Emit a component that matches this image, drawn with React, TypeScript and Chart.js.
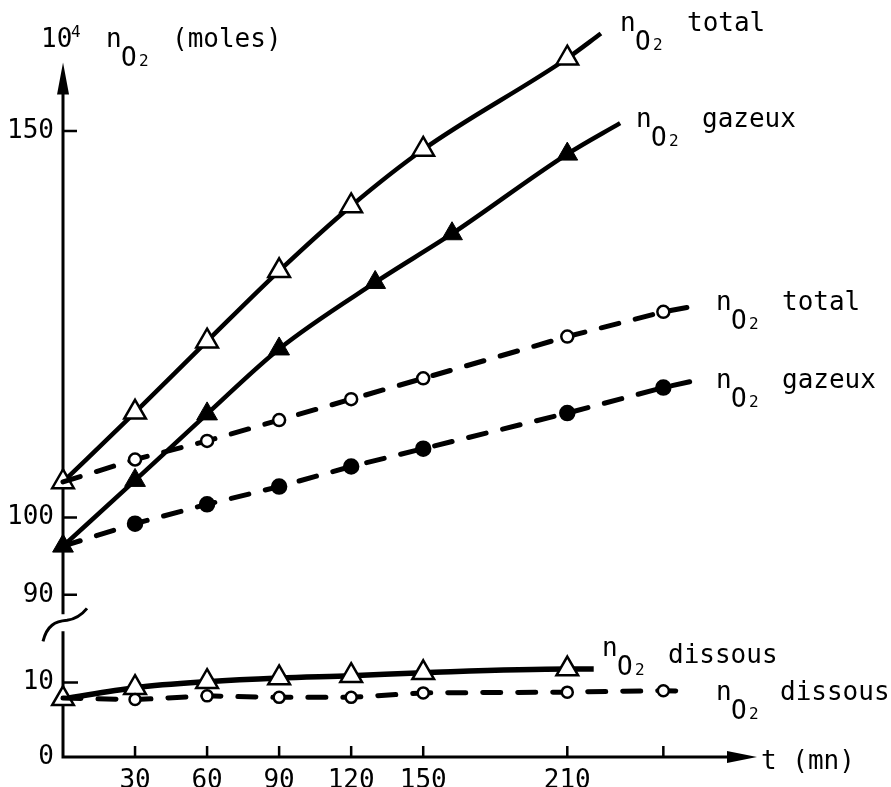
import React, { useEffect, useRef } from 'react';
import { Chart, registerables } from 'chart.js';

Chart.register(...registerables);

// ---- data (t in mn, values in 10^4 moles) ----
// last entry of each series = end of the drawn curve (no marker)
const totalSolidT = [0, 30, 60, 90, 120, 150, 210, 224];
const totalSolidV = [104.6, 113.6, 122.8, 131.9, 140.3, 147.6, 159.4, 162.6];

const gazeuxSolidT = [0, 30, 60, 90, 130, 162, 210, 232];
const gazeuxSolidV = [96.3, 104.8, 113.4, 121.8, 130.4, 136.7, 147.0, 151.0];

// first entry of dashed series = start on the triangle at t=0 (no marker)
const totalDashT = [0, 30, 60, 90, 120, 150, 210, 250, 264];
const totalDashV = [104.6, 107.5, 109.9, 112.6, 115.3, 118.0, 123.4, 126.6, 127.4];

const gazeuxDashT = [0, 30, 60, 90, 120, 150, 210, 250, 263];
const gazeuxDashV = [96.3, 99.2, 101.7, 104.0, 106.6, 108.9, 113.5, 116.8, 117.7];

const dissousSolidT = [0, 30, 60, 90, 120, 150, 210, 221];
const dissousSolidV = [7.8, 9.3, 10.1, 10.6, 10.9, 11.3, 11.8, 11.8];

const dissousDashT = [0, 30, 60, 90, 120, 150, 210, 250, 261];
const dissousDashV = [7.9, 7.7, 8.2, 8.0, 8.0, 8.6, 8.7, 8.9, 8.8];

// ---- axes ----
const xTickValues = [0, 30, 60, 90, 120, 150, 210, 250];
const xTickLabels = ['', '30', '60', '90', '120', '150', '210', ''];
const xMin = 0;
const xMax = 289;
const upperTicks = [90, 100, 150];
const lowerTicks = [0, 10];
const upperMin = 86.31;
const upperMax = 163.75;
const lowerMin = 0;
const lowerMax = 17.93;

const FONT = '"DejaVu Sans Mono", "Liberation Mono", monospace';

const pts = (t: number[], v: number[]) => t.map((x, i) => ({ x, y: v[i] }));

function drawNO2(ctx: CanvasRenderingContext2D, x: number, y: number, word: string, wordDx: number, wordDy: number) {
  ctx.font = `26px ${FONT}`;
  ctx.fillText('n', x, y);
  ctx.fillText('O', x + 15, y + 19);
  ctx.font = `16px ${FONT}`;
  ctx.fillText('2', x + 33, y + 19);
  if (word) {
    ctx.font = `26px ${FONT}`;
    ctx.fillText(word, x + wordDx, y + wordDy);
  }
}

const sketchPlugin = {
  id: 'sketchAxes',
  beforeDatasetsDraw(chart: any) {
    const { ctx, scales } = chart;
    const xs = scales.x;
    const yU = scales.y;
    const yL = scales.y2;
    const ax = xs.left;
    const ay = xs.top;
    const breakY = yU.bottom;
    const topY = chart.chartArea.top + 38;
    ctx.save();
    ctx.strokeStyle = '#000';
    ctx.fillStyle = '#000';
    ctx.lineWidth = 3;
    ctx.beginPath();
    ctx.moveTo(ax, topY + 20);
    ctx.lineTo(ax, breakY - 9);
    ctx.moveTo(ax, breakY + 8);
    ctx.lineTo(ax, ay);
    ctx.lineTo(xs.right - 22, ay);
    ctx.stroke();
    // arrow heads
    ctx.beginPath();
    ctx.moveTo(ax, topY);
    ctx.lineTo(ax + 6, topY + 32);
    ctx.lineTo(ax - 6, topY + 32);
    ctx.closePath();
    ctx.fill();
    ctx.beginPath();
    ctx.moveTo(xs.right, ay);
    ctx.lineTo(xs.right - 30, ay - 6);
    ctx.lineTo(xs.right - 30, ay + 6);
    ctx.closePath();
    ctx.fill();
    // ticks (inside)
    ctx.lineWidth = 2.5;
    ctx.beginPath();
    for (const v of upperTicks) {
      const py = yU.getPixelForValue(v);
      ctx.moveTo(ax, py);
      ctx.lineTo(ax + 14, py);
    }
    for (const v of lowerTicks) {
      if (v === 0) continue;
      const py = yL.getPixelForValue(v);
      ctx.moveTo(ax, py);
      ctx.lineTo(ax + 15, py);
    }
    for (const v of xTickValues) {
      if (v === 0) continue;
      const px = xs.getPixelForValue(v);
      ctx.moveTo(px, ay);
      ctx.lineTo(px, ay - 11);
    }
    ctx.stroke();
    // axis break symbol
    ctx.lineWidth = 3;
    ctx.beginPath();
    ctx.moveTo(ax - 20, breakY + 18);
    ctx.bezierCurveTo(ax - 16, breakY + 2, ax - 8, breakY - 2, ax + 4, breakY - 3);
    ctx.quadraticCurveTo(ax + 16, breakY - 5, ax + 24, breakY - 15);
    ctx.stroke();
    ctx.restore();
  },
  afterDraw(chart: any) {
    const { ctx } = chart;
    ctx.save();
    ctx.fillStyle = '#000';
    ctx.textBaseline = 'alphabetic';
    ctx.textAlign = 'left';
    // y-axis title
    ctx.font = `26px ${FONT}`;
    ctx.fillText('10', 41, 47);
    ctx.font = `16px ${FONT}`;
    ctx.fillText('4', 71, 37);
    drawNO2(ctx, 106, 47, '', 0, 0);
    ctx.font = `26px ${FONT}`;
    ctx.fillText('(moles)', 172, 47);
    // curve labels
    drawNO2(ctx, 620, 31, 'total', 67, 0);
    drawNO2(ctx, 636, 127, 'gazeux', 66, 0);
    drawNO2(ctx, 716, 310, 'total', 66, 0);
    drawNO2(ctx, 716, 388, 'gazeux', 66, 0);
    drawNO2(ctx, 602, 656, 'dissous', 66, 7);
    drawNO2(ctx, 716, 700, 'dissous', 64, 0);
    // x-axis title
    ctx.font = `26px ${FONT}`;
    ctx.fillText('t (mn)', 761, 769);
    ctx.restore();
  },
};

const tickFont = { family: FONT, size: 26 };

export default function App() {
  const ref = useRef<HTMLCanvasElement | null>(null);

  useEffect(() => {
    if (!ref.current) return;
    const openTri = (n: number) => ({
      pointStyle: 'triangle',
      pointRadius: (c: any) => (c.dataIndex === n - 1 ? 0 : 12.5),
      pointBackgroundColor: '#fff',
      pointBorderColor: '#000',
      pointBorderWidth: 2.5,
    });
    const fillTri = (n: number) => ({
      pointStyle: 'triangle',
      pointRadius: (c: any) => (c.dataIndex === n - 1 ? 0 : 12),
      pointBackgroundColor: '#000',
      pointBorderColor: '#000',
      pointBorderWidth: 1,
    });
    const circ = (n: number, r: number, filled: boolean) => ({
      pointStyle: 'circle',
      pointRadius: (c: any) => (c.dataIndex === 0 || c.dataIndex === n - 1 ? 0 : r),
      pointBackgroundColor: filled ? '#000' : '#fff',
      pointBorderColor: '#000',
      pointBorderWidth: 2.5,
    });
    const solid = { borderColor: '#000', borderWidth: 4.5, cubicInterpolationMode: 'monotone', tension: 0.4 };
    const dashed = { borderColor: '#000', borderWidth: 5, borderDash: [18, 17], borderCapStyle: 'round', tension: 0 };

    const chart = new Chart(ref.current, {
      type: 'line',
      data: {
        datasets: [
          { label: 'n O2 gazeux (tirets)', data: pts(gazeuxDashT, gazeuxDashV), yAxisID: 'y', ...dashed, ...circ(gazeuxDashT.length, 7, true), clip: false },
          { label: 'n O2 total (tirets)', data: pts(totalDashT, totalDashV), yAxisID: 'y', ...dashed, ...circ(totalDashT.length, 6, false), clip: false },
          { label: 'n O2 gazeux', data: pts(gazeuxSolidT, gazeuxSolidV), yAxisID: 'y', ...solid, ...fillTri(gazeuxSolidT.length), clip: false },
          { label: 'n O2 total', data: pts(totalSolidT, totalSolidV), yAxisID: 'y', ...solid, ...openTri(totalSolidT.length), clip: false },
          { label: 'n O2 dissous (tirets)', data: pts(dissousDashT, dissousDashV), yAxisID: 'y2', ...dashed, ...circ(dissousDashT.length, 5.5, false), clip: false },
          { label: 'n O2 dissous', data: pts(dissousSolidT, dissousSolidV), yAxisID: 'y2', ...solid, borderWidth: 5.5, ...openTri(dissousSolidT.length), clip: false },
        ] as any,
      },
      options: {
        animation: false,
        responsive: false,
        maintainAspectRatio: false,
        layout: { padding: { top: 20, right: 134, left: 0, bottom: 0 } },
        plugins: { legend: { display: false }, tooltip: { enabled: false } },
        scales: {
          x: {
            type: 'linear',
            position: 'bottom',
            min: xMin,
            max: xMax,
            grid: { display: false, drawTicks: false },
            border: { display: false },
            ticks: {
              padding: 9,
              font: tickFont,
              color: '#000',
              autoSkip: false,
              maxRotation: 0,
              callback: (_v: any, i: number) => xTickLabels[i],
            },
            afterBuildTicks: (s: any) => {
              s.ticks = xTickValues.map((value) => ({ value }));
            },
            afterFit: (s: any) => {
              s.height = 30;
            },
          },
          y: {
            type: 'linear',
            position: 'left',
            stack: 'left',
            stackWeight: 602.5,
            weight: 2,
            min: upperMin,
            max: upperMax,
            grid: { display: false, drawTicks: false },
            border: { display: false },
            ticks: { padding: 9, font: tickFont, color: '#000', callback: (v: any) => String(v) },
            afterBuildTicks: (s: any) => {
              s.ticks = upperTicks.map((value) => ({ value }));
            },
            afterFit: (s: any) => {
              s.width = 63;
            },
          },
          y2: {
            type: 'linear',
            position: 'left',
            stack: 'left',
            stackWeight: 134.5,
            weight: 1,
            min: lowerMin,
            max: lowerMax,
            grid: { display: false, drawTicks: false },
            border: { display: false },
            ticks: { padding: 9, font: tickFont, color: '#000', callback: (v: any) => String(v) },
            afterBuildTicks: (s: any) => {
              s.ticks = lowerTicks.map((value) => ({ value }));
            },
            afterFit: (s: any) => {
              s.width = 63;
            },
          },
        },
      } as any,
      plugins: [sketchPlugin],
    });
    return () => chart.destroy();
  }, []);

  return (
    <div style={{ position: 'fixed', left: 0, top: 0, width: 891, height: 787, background: '#fff' }}>
      <canvas ref={ref} width={891} height={787} style={{ display: 'block', width: 891, height: 787 }} />
    </div>
  );
}
